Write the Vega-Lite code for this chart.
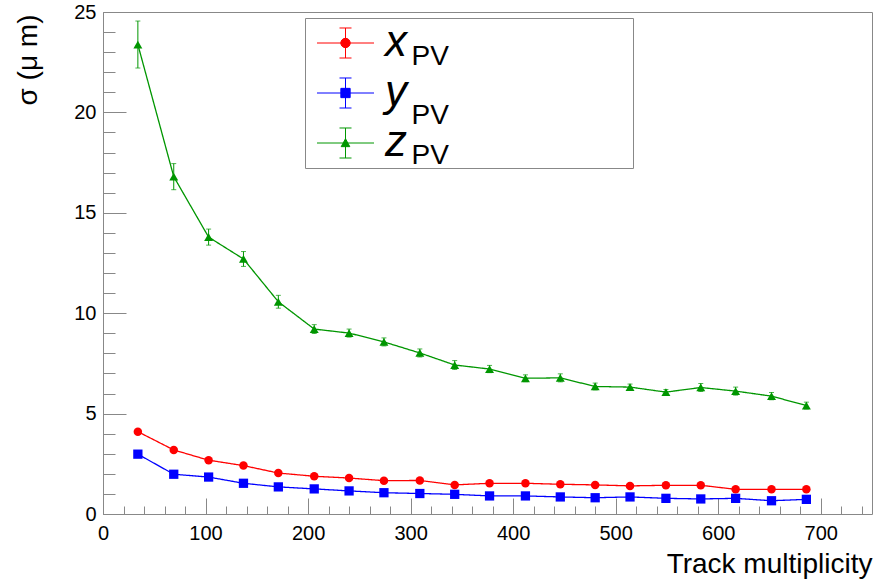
{
  "$schema": "https://vega.github.io/schema/vega-lite/v6.json",
  "width": 769,
  "height": 502,
  "autosize": {"type": "none"},
  "padding": {"left": 103, "top": 12, "right": 10, "bottom": 65},
  "background": "white",
  "config": {
    "view": {"stroke": "#888888", "strokeWidth": 1},
    "font": "Liberation Sans"
  },
  "data": {
    "values": [
      {"series": "x", "mult": 34, "sigma": 4.10, "err": 0.08},
      {"series": "x", "mult": 69, "sigma": 3.19, "err": 0.06},
      {"series": "x", "mult": 103, "sigma": 2.68, "err": 0.05},
      {"series": "x", "mult": 137, "sigma": 2.41, "err": 0.05},
      {"series": "x", "mult": 171, "sigma": 2.04, "err": 0.05},
      {"series": "x", "mult": 206, "sigma": 1.88, "err": 0.05},
      {"series": "x", "mult": 240, "sigma": 1.79, "err": 0.05},
      {"series": "x", "mult": 274, "sigma": 1.66, "err": 0.05},
      {"series": "x", "mult": 309, "sigma": 1.67, "err": 0.05},
      {"series": "x", "mult": 343, "sigma": 1.45, "err": 0.05},
      {"series": "x", "mult": 377, "sigma": 1.53, "err": 0.05},
      {"series": "x", "mult": 412, "sigma": 1.53, "err": 0.05},
      {"series": "x", "mult": 446, "sigma": 1.48, "err": 0.05},
      {"series": "x", "mult": 480, "sigma": 1.45, "err": 0.05},
      {"series": "x", "mult": 514, "sigma": 1.40, "err": 0.05},
      {"series": "x", "mult": 549, "sigma": 1.43, "err": 0.05},
      {"series": "x", "mult": 583, "sigma": 1.43, "err": 0.05},
      {"series": "x", "mult": 617, "sigma": 1.23, "err": 0.05},
      {"series": "x", "mult": 652, "sigma": 1.23, "err": 0.05},
      {"series": "x", "mult": 686, "sigma": 1.23, "err": 0.05},
      {"series": "y", "mult": 34, "sigma": 2.98, "err": 0.07},
      {"series": "y", "mult": 69, "sigma": 1.98, "err": 0.05},
      {"series": "y", "mult": 103, "sigma": 1.84, "err": 0.05},
      {"series": "y", "mult": 137, "sigma": 1.53, "err": 0.05},
      {"series": "y", "mult": 171, "sigma": 1.35, "err": 0.05},
      {"series": "y", "mult": 206, "sigma": 1.25, "err": 0.05},
      {"series": "y", "mult": 240, "sigma": 1.15, "err": 0.05},
      {"series": "y", "mult": 274, "sigma": 1.06, "err": 0.05},
      {"series": "y", "mult": 309, "sigma": 1.02, "err": 0.05},
      {"series": "y", "mult": 343, "sigma": 0.98, "err": 0.05},
      {"series": "y", "mult": 377, "sigma": 0.90, "err": 0.05},
      {"series": "y", "mult": 412, "sigma": 0.90, "err": 0.05},
      {"series": "y", "mult": 446, "sigma": 0.85, "err": 0.05},
      {"series": "y", "mult": 480, "sigma": 0.81, "err": 0.05},
      {"series": "y", "mult": 514, "sigma": 0.85, "err": 0.05},
      {"series": "y", "mult": 549, "sigma": 0.78, "err": 0.05},
      {"series": "y", "mult": 583, "sigma": 0.75, "err": 0.05},
      {"series": "y", "mult": 617, "sigma": 0.78, "err": 0.05},
      {"series": "y", "mult": 652, "sigma": 0.66, "err": 0.05},
      {"series": "y", "mult": 686, "sigma": 0.73, "err": 0.05},
      {"series": "z", "mult": 34, "sigma": 23.38, "err": 1.17},
      {"series": "z", "mult": 69, "sigma": 16.80, "err": 0.65},
      {"series": "z", "mult": 103, "sigma": 13.79, "err": 0.40},
      {"series": "z", "mult": 137, "sigma": 12.70, "err": 0.37},
      {"series": "z", "mult": 171, "sigma": 10.57, "err": 0.32},
      {"series": "z", "mult": 206, "sigma": 9.21, "err": 0.22},
      {"series": "z", "mult": 240, "sigma": 9.01, "err": 0.20},
      {"series": "z", "mult": 274, "sigma": 8.57, "err": 0.20},
      {"series": "z", "mult": 309, "sigma": 8.02, "err": 0.20},
      {"series": "z", "mult": 343, "sigma": 7.42, "err": 0.22},
      {"series": "z", "mult": 377, "sigma": 7.22, "err": 0.18},
      {"series": "z", "mult": 412, "sigma": 6.76, "err": 0.17},
      {"series": "z", "mult": 446, "sigma": 6.78, "err": 0.20},
      {"series": "z", "mult": 480, "sigma": 6.35, "err": 0.17},
      {"series": "z", "mult": 514, "sigma": 6.32, "err": 0.15},
      {"series": "z", "mult": 549, "sigma": 6.07, "err": 0.13},
      {"series": "z", "mult": 583, "sigma": 6.30, "err": 0.20},
      {"series": "z", "mult": 617, "sigma": 6.12, "err": 0.20},
      {"series": "z", "mult": 652, "sigma": 5.87, "err": 0.18},
      {"series": "z", "mult": 686, "sigma": 5.40, "err": 0.17}
    ]
  },
  "resolve": {"axis": {"x": "independent", "y": "independent"}},
  "layer": [
    {
      "mark": {"type": "errorbar", "ticks": {"size": 5, "thickness": 1}, "thickness": 1},
      "encoding": {
        "x": {"field": "mult", "type": "quantitative", "scale": {"domain": [0, 750], "nice": false, "zero": false}, "axis": null},
        "y": {"field": "sigma", "type": "quantitative", "scale": {"domain": [0, 25], "nice": false}, "axis": null},
        "yError": {"field": "err"},
        "color": {
          "field": "series", "type": "nominal",
          "scale": {"domain": ["x", "y", "z"], "range": ["#ff0000", "#0000ff", "#009600"]},
          "legend": {
            "orient": "none", "legendX": 202, "legendY": 6, "title": null,
            "padding": 3, "rowPadding": 6, "labelOffset": 33, "labelLimit": 500,
            "labelFont": "Liberation Sans", "labelFontSize": 44, "labelFontStyle": "italic", "labelColor": "black",
            "symbolSize": 1849, "symbolStrokeWidth": 1, "symbolOpacity": 1,
            "strokeColor": "#888888",
            "encode": {
              "symbols": {
                "update": {
                  "shape": {"signal": "datum.value === 'x' ? 'M-0.605,0H2.047M0.721,-0.698V0.698M0.442,-0.698H1M0.442,0.698H1M0.502,0A0.219,0.219,0,1,0,0.94,0A0.219,0.219,0,1,0,0.502,0ZM13.86,0' : datum.value === 'y' ? 'M-0.605,0H2.047M0.721,-0.698V0.698M0.442,-0.698H1M0.442,0.698H1M0.505,-0.216H0.937V0.216H0.505ZM13.86,0' : 'M-0.605,0H2.047M0.721,-0.698V0.698M0.442,-0.698H1M0.442,0.698H1M0.721,-0.2L0.921,0.17L0.521,0.17ZM13.86,0'"},
                  "fill": {"signal": "scale('color', datum.value)"},
                  "stroke": {"signal": "scale('color', datum.value)"},
                  "strokeWidth": {"value": 1},
                  "opacity": {"value": 1}
                }
              }
            }
          }
        }
      }
    },
    {
      "mark": {"type": "line", "strokeWidth": 1.3},
      "encoding": {
        "x": {
          "field": "mult", "type": "quantitative",
          "axis": {
            "orient": "bottom", "title": null, "labels": false, "domain": false, "grid": false,
            "values": [0, 20, 40, 60, 80, 100, 120, 140, 160, 180, 200, 220, 240, 260, 280, 300, 320, 340, 360, 380, 400, 420, 440, 460, 480, 500, 520, 540, 560, 580, 600, 620, 640, 660, 680, 700, 720, 740],
            "tickSize": -8, "tickColor": "#888888", "tickWidth": 1
          }
        },
        "y": {
          "field": "sigma", "type": "quantitative",
          "axis": {
            "orient": "left", "title": null, "labels": false, "domain": false, "grid": false,
            "values": [0, 1, 2, 3, 4, 5, 6, 7, 8, 9, 10, 11, 12, 13, 14, 15, 16, 17, 18, 19, 20, 21, 22, 23, 24, 25],
            "tickSize": -12, "tickColor": "#888888", "tickWidth": 1
          }
        },
        "color": {"field": "series", "type": "nominal"},
        "strokeDash": {
          "field": "series", "type": "nominal",
          "scale": {"range": [[1, 0], [1, 0], [1, 0]]},
          "legend": {
            "orient": "none", "legendX": 202, "legendY": 26, "title": null,
            "padding": 3, "rowPadding": 0, "labelOffset": 75.5, "labelLimit": 500,
            "labelFont": "Liberation Sans", "labelFontSize": 28, "labelColor": "black",
            "labelExpr": "'PV'",
            "symbolType": "M0,-2.8L0,7.2", "symbolSize": 100, "symbolStrokeWidth": 1, "symbolOpacity": 0,
            "encode": {
              "labels": {"update": {"dy": {"signal": "datum.value === 'y' ? 10.5 : datum.value === 'z' ? 1.3 : 2.2"}}}
            }
          }
        }
      }
    },
    {
      "transform": [{"filter": "datum.series === 'x'"}],
      "mark": {"type": "point", "filled": true, "opacity": 1, "shape": "circle", "size": 72},
      "encoding": {
        "x": {
          "field": "mult", "type": "quantitative",
          "axis": {
            "orient": "bottom", "title": "Track multiplicity", "domain": false, "grid": false,
            "values": [0, 100, 200, 300, 400, 500, 600, 700],
            "tickSize": -16, "tickColor": "#888888", "tickWidth": 1,
            "labelFont": "Liberation Sans", "labelFontSize": 20, "labelColor": "black", "labelPadding": 25,
            "labelFlush": false,
            "titleFont": "Liberation Sans", "titleFontSize": 28, "titleFontWeight": "normal", "titleColor": "black",
            "titleX": 769, "titleY": 58, "titleAlign": "right", "titleBaseline": "alphabetic"
          }
        },
        "y": {
          "field": "sigma", "type": "quantitative",
          "axis": {
            "orient": "left", "title": "σ (μ m)", "domain": false, "grid": false,
            "values": [0, 5, 10, 15, 20, 25],
            "tickSize": -23, "tickColor": "#888888", "tickWidth": 1,
            "labelFont": "Liberation Sans", "labelFontSize": 20, "labelColor": "black", "labelPadding": 30,
            "labelFlush": false,
            "titleFont": "Liberation Sans", "titleFontSize": 28, "titleFontWeight": "normal", "titleColor": "black",
            "titleAngle": -90, "titleX": -75, "titleY": 2, "titleAlign": "right", "titleBaseline": "middle"
          }
        },
        "color": {"field": "series", "type": "nominal"}
      }
    },
    {
      "transform": [{"filter": "datum.series === 'y'"}],
      "mark": {"type": "point", "filled": true, "opacity": 1, "shape": "square", "size": 86},
      "encoding": {
        "x": {"field": "mult", "type": "quantitative", "axis": null},
        "y": {"field": "sigma", "type": "quantitative", "axis": null},
        "color": {"field": "series", "type": "nominal"}
      }
    },
    {
      "transform": [{"filter": "datum.series === 'z'"}],
      "mark": {"type": "point", "filled": true, "opacity": 1, "shape": "triangle-up", "size": 80},
      "encoding": {
        "x": {"field": "mult", "type": "quantitative", "axis": null},
        "y": {"field": "sigma", "type": "quantitative", "axis": null},
        "color": {"field": "series", "type": "nominal"}
      }
    }
  ]
}
